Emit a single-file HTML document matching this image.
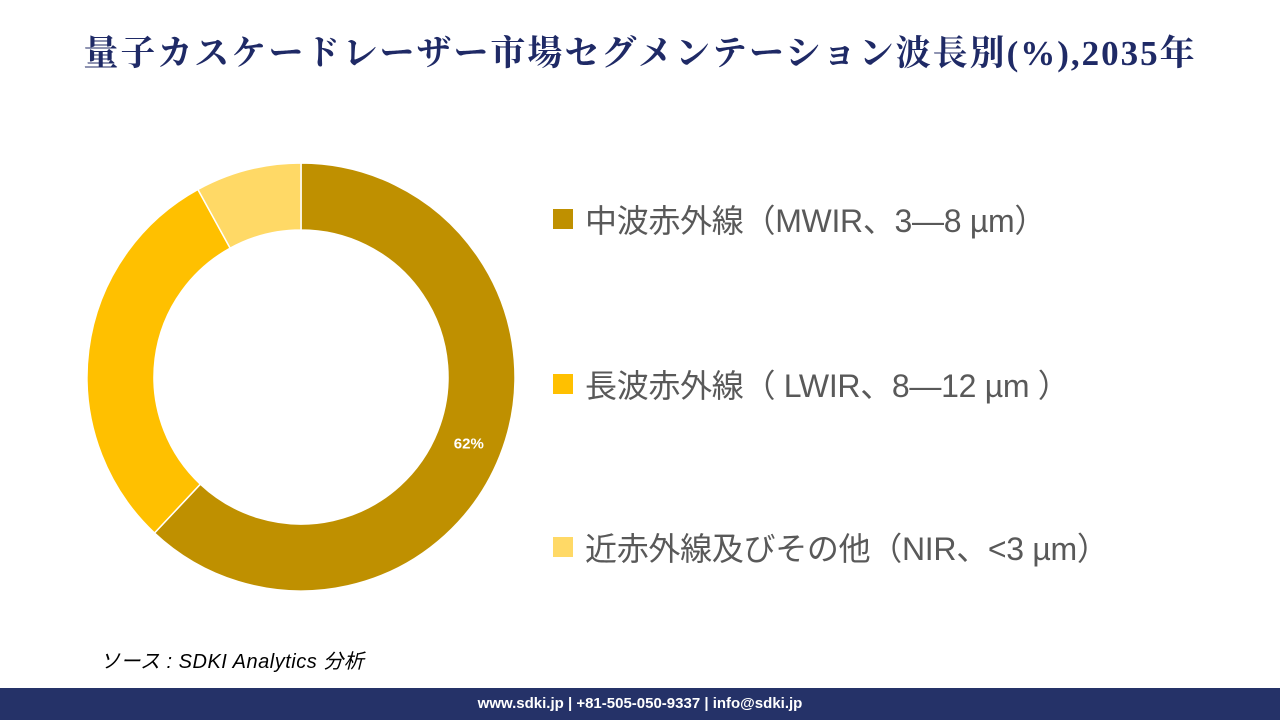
<!DOCTYPE html>
<html><head><meta charset="utf-8"><style>
body{margin:0;width:1280px;height:720px;background:#fff;position:relative;overflow:hidden;font-family:"Liberation Sans","Noto Sans CJK JP",sans-serif}
#title{position:absolute;left:0;width:1280px;top:26px;text-align:center;font-family:"Liberation Serif","Noto Serif CJK SC",serif;font-size:35px;color:#1f2a66;letter-spacing:2px;font-weight:bold}
.leg{position:absolute;left:553px;font-size:32px;color:#595959;display:flex;align-items:center;white-space:nowrap;letter-spacing:-0.3px}
.sw{width:20px;height:20px;margin-right:12px}
#src{position:absolute;left:100px;top:645px;font-size:20px;font-style:italic;color:#000;letter-spacing:0.5px}
#foot{position:absolute;left:0;top:688px;width:1280px;height:32px;background:#253268;color:#fff;font-weight:bold;font-size:15px;text-align:center;line-height:32px}
</style></head><body>
<div id="title">量子カスケードレーザー市場セグメンテーション波長別(%),2035年</div>
<svg id="chart" width="1280" height="720" style="position:absolute;left:0;top:0"></svg>
<div class="leg" style="top:196px"><div class="sw" style="background:#BF9000"></div>中波赤外線（MWIR、3—8 µm）</div>
<div class="leg" style="top:361px"><div class="sw" style="background:#FFC000"></div>長波赤外線（ LWIR、8—12 µm ）</div>
<div class="leg" style="top:524px"><div class="sw" style="background:#FFD966"></div>近赤外線及びその他（NIR、&lt;3 µm）</div>
<div id="src">ソース : SDKI Analytics 分析</div>
<div id="foot">www.sdki.jp | +81-505-050-9337 | info@sdki.jp</div>
<script>
const categories=["MWIR","LWIR","NIR"];
const values=[62,30,8];
const labels=["62%","",""];
const colors=["#BF9000","#FFC000","#FFD966"];
const svg=document.getElementById('chart');
const cx=301,cy=377,R=214,r=147;
const total=values.reduce((a,b)=>a+b,0);
let a0=0;
function pt(rad,a){return [cx+rad*Math.sin(a),cy-rad*Math.cos(a)];}
values.forEach((v,i)=>{
  const a1=a0+v/total*2*Math.PI;
  const large=(a1-a0)>Math.PI?1:0;
  const [x0,y0]=pt(R,a0),[x1,y1]=pt(R,a1),[x2,y2]=pt(r,a1),[x3,y3]=pt(r,a0);
  const p=document.createElementNS('http://www.w3.org/2000/svg','path');
  p.setAttribute('d',`M${x0},${y0}A${R},${R} 0 ${large} 1 ${x1},${y1}L${x2},${y2}A${r},${r} 0 ${large} 0 ${x3},${y3}Z`);
  p.setAttribute('fill',colors[i]);p.setAttribute('stroke','#fff');p.setAttribute('stroke-width','1.5');
  
  
  svg.appendChild(p);
  if(labels[i]){
    const mid=(a0+a1)/2;const [tx,ty]=pt((R+r)/2,mid);
    const t=document.createElementNS('http://www.w3.org/2000/svg','text');
    t.setAttribute('x',tx);t.setAttribute('y',ty+5);t.setAttribute('text-anchor','middle');
    t.setAttribute('fill','#fff');t.setAttribute('font-weight','bold');t.setAttribute('font-size','15');
    t.setAttribute('font-family','Liberation Sans, sans-serif');
    t.textContent=labels[i];
    
    
    svg.appendChild(t);
  }
  a0=a1;
});
</script>
</body></html>
